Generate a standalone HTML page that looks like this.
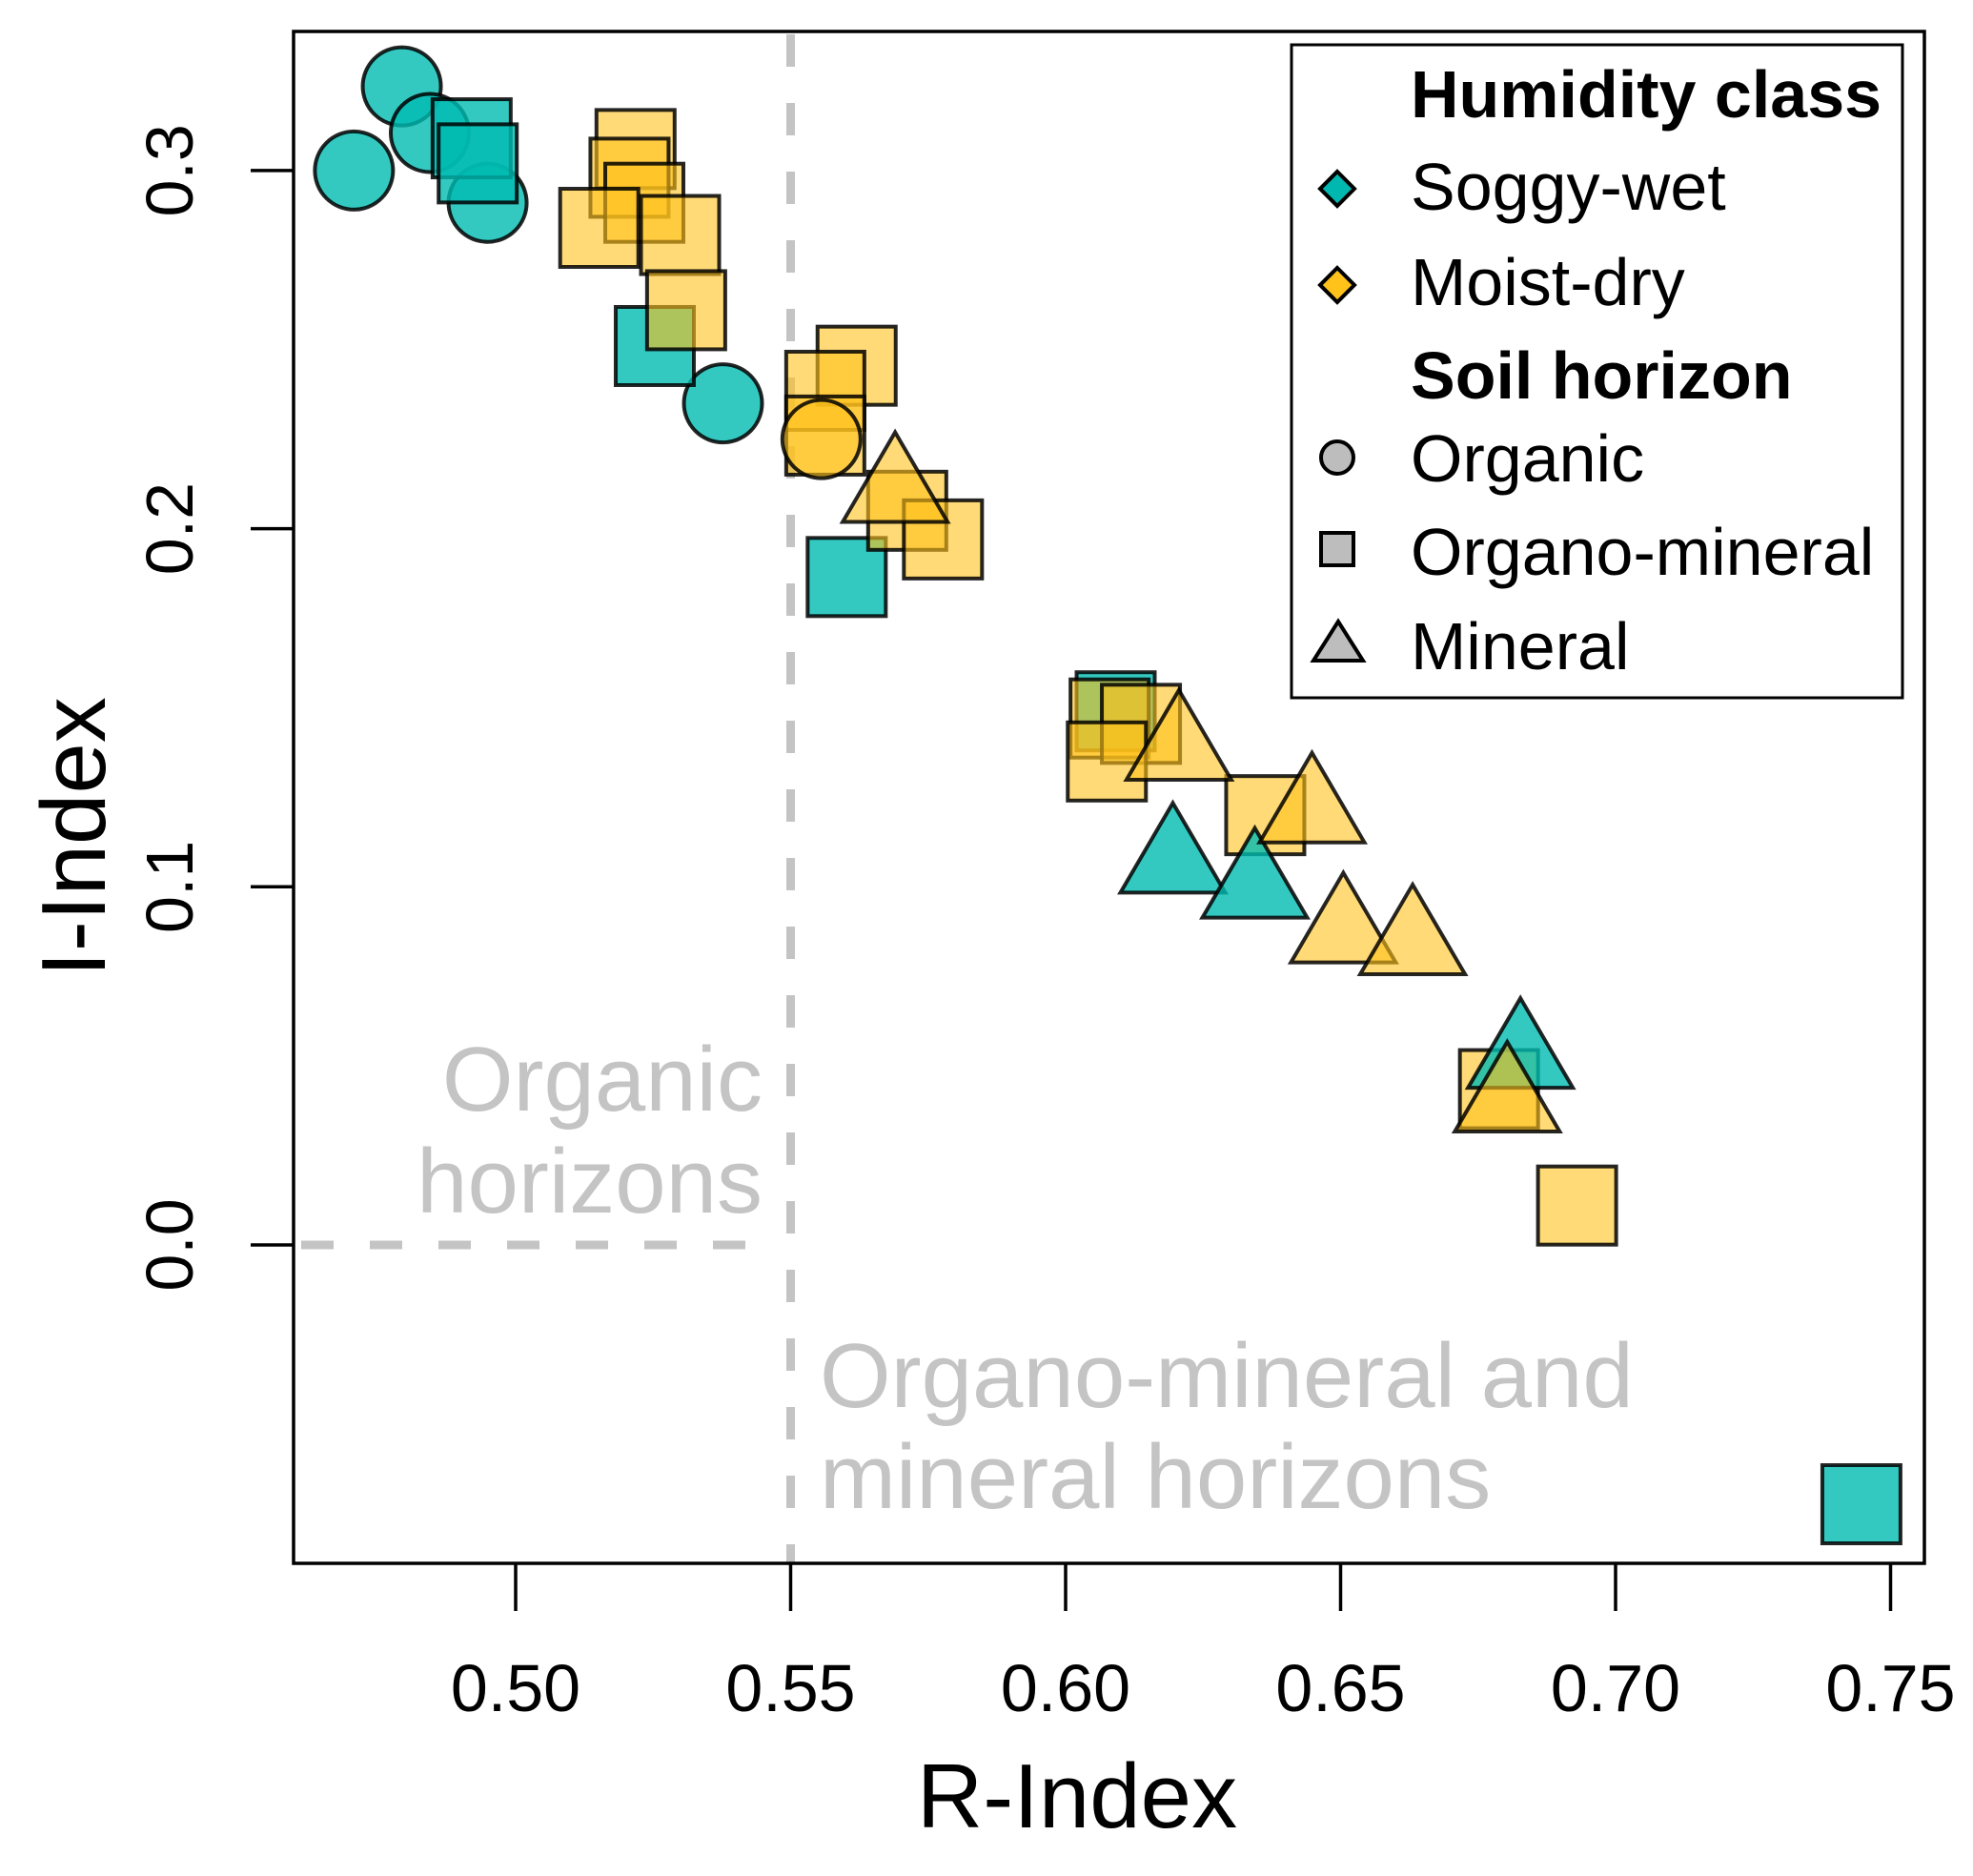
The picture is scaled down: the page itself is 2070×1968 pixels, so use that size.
<!DOCTYPE html>
<html><head><meta charset="utf-8"><style>
html,body{margin:0;padding:0;background:#fff}
svg{display:block;font-family:"Liberation Sans",Arial,sans-serif}
</style></head><body>
<svg id="chart" width="2070" height="1968" viewBox="0 0 2070 1968" xmlns="http://www.w3.org/2000/svg">
<rect x="0" y="0" width="2070" height="1968" fill="#fff"/>
<g id="refs"></g>
<g fill="#c4c4c4" font-size="96">
<text x="800" y="1165" text-anchor="end">Organic</text>
<text x="800" y="1272" text-anchor="end">horizons</text>
<text x="860" y="1476">Organo-mineral and</text>
<text x="860" y="1582">mineral horizons</text>
</g>
<g id="marks"></g>
<rect x="308" y="33" width="1711" height="1607" fill="none" stroke="#000" stroke-width="3.5"/>
<g id="axes" font-size="70"></g>
<text x="1130" y="1917" font-size="96" text-anchor="middle">R-Index</text>
<text transform="translate(110,878) rotate(-90)" font-size="96" text-anchor="middle">I-Index</text>
<g>
<rect x="1355" y="47" width="641" height="685" fill="#fff" stroke="#000" stroke-width="3"/>
<text x="1480" y="123" font-size="70" font-weight="bold">Humidity class</text>
<polygon points="1403,180 1421,198 1403,216 1385,198" fill="#00b8b0" stroke="#000" stroke-width="4"/>
<text x="1480" y="220" font-size="70">Soggy-wet</text>
<polygon points="1403,281 1421,299 1403,317 1385,299" fill="#ffc21a" stroke="#000" stroke-width="4"/>
<text x="1480" y="320" font-size="70">Moist-dry</text>
<text x="1480" y="418" font-size="70" font-weight="bold">Soil horizon</text>
<circle cx="1403" cy="480" r="17" fill="#bdbdbd" stroke="#000" stroke-width="4"/>
<text x="1480" y="505" font-size="70">Organic</text>
<rect x="1386" y="559" width="34" height="34" fill="#bdbdbd" stroke="#000" stroke-width="4"/>
<text x="1480" y="603" font-size="70">Organo-mineral</text>
<polygon points="1404,652 1430,693 1378,693" fill="#bdbdbd" stroke="#000" stroke-width="4"/>
<text x="1480" y="702" font-size="70">Mineral</text>
</g>
</svg>
<script>
// data arrays
const circleSoggyR = [0.4706,0.4793,0.4844,0.4949,0.5377];
const circleSoggyI = [0.300,0.3235,0.3105,0.291,0.235];
const circleMoistR = [0.5556];
const circleMoistI = [0.225];
const squareSoggyR = [0.492,0.4931,0.5253,0.5602,0.6091,0.7447];
const squareSoggyI = [0.309,0.302,0.251,0.1865,0.149,-0.0724];
const squareMoistR = [0.5218,0.5207,0.5234,0.5152,0.5299,0.531,0.562,0.5563,0.5563,0.5712,0.5777,0.608,0.6137,0.6075,0.6363,0.6788,0.693];
const squareMoistI = [0.306,0.298,0.291,0.284,0.282,0.261,0.2455,0.2385,0.226,0.205,0.197,0.147,0.1455,0.135,0.12,0.0435,0.011];
const triSoggyR = [0.6195,0.6344,0.6827];
const triSoggyI = [0.1085,0.1015,0.054];
const triMoistR = [0.569,0.6206,0.6448,0.6505,0.6631,0.6803];
const triMoistI = [0.212,0.14,0.1225,0.089,0.0857,0.0418];
const xTicks = [0.50,0.55,0.60,0.65,0.70,0.75];
const xTickLabels = ["0.50","0.55","0.60","0.65","0.70","0.75"];
const yTicks = [0.0,0.1,0.2,0.3];
const yTickLabels = ["0.0","0.1","0.2","0.3"];

const NS="http://www.w3.org/2000/svg";
function X(v){return 541+(v-0.5)*5770;}
function Y(v){return 1306-v*3757;}
const TEAL="#00bcb2", YEL="#ffc21a";
function mk(tag,attrs,parent){const e=document.createElementNS(NS,tag);for(const k in attrs)e.setAttribute(k,attrs[k]);parent.appendChild(e);return e;}
const marks=document.getElementById('marks');
const refs=document.getElementById('refs');
const axes=document.getElementById('axes');

let l1=mk('line',{x1:X(0.55),y1:36,x2:X(0.55),y2:1640,stroke:"#c4c4c4","stroke-width":9,"stroke-dasharray":"34 38"},refs);


let l2=mk('line',{x1:316,y1:Y(0),x2:X(0.55)-10,y2:Y(0),stroke:"#c4c4c4","stroke-width":9,"stroke-dasharray":"34 38"},refs);



function style(col){return {fill:col,"fill-opacity":col===TEAL?0.8:0.6,stroke:"#000","stroke-width":4,"stroke-opacity":0.85};}
function circles(R,I,col,name){for(let i=0;i<R.length;i++){const e=mk('circle',Object.assign({cx:X(R[i]),cy:Y(I[i]),r:41},style(col)),marks);

}}
function squares(R,I,col,name){for(let i=0;i<R.length;i++){const e=mk('rect',Object.assign({x:X(R[i])-41,y:Y(I[i])-41,width:82,height:82},style(col)),marks);

}}
function tris(R,I,col,name){for(let i=0;i<R.length;i++){const cx=X(R[i]),cy=Y(I[i]);const e=mk('polygon',Object.assign({points:`${cx},${cy-56} ${cx+55},${cy+38} ${cx-55},${cy+38}`},style(col)),marks);

}}
circles(circleSoggyR,circleSoggyI,TEAL,'point-organic-soggy');
squares(squareSoggyR,squareSoggyI,TEAL,'point-organo-mineral-soggy');
squares(squareMoistR,squareMoistI,YEL,'point-organo-mineral-moist');
circles(circleMoistR,circleMoistI,YEL,'point-organic-moist');
tris(triSoggyR,triSoggyI,TEAL,'point-mineral-soggy');
tris(triMoistR,triMoistI,YEL,'point-mineral-moist');

for(let i=0;i<xTicks.length;i++){const x=X(xTicks[i]);
const t=mk('line',{x1:x,y1:1640,x2:x,y2:1690,stroke:"#000","stroke-width":3.5},axes);


const tx=mk('text',{x:x,y:1795,"text-anchor":"middle"},axes);tx.textContent=xTickLabels[i];

}
for(let i=0;i<yTicks.length;i++){const y=Y(yTicks[i]);
const t=mk('line',{x1:263,y1:y,x2:308,y2:y,stroke:"#000","stroke-width":3.5},axes);


const tx=mk('text',{transform:`translate(202,${y}) rotate(-90)`,"text-anchor":"middle"},axes);tx.textContent=yTickLabels[i];

}
</script>
</body></html>
